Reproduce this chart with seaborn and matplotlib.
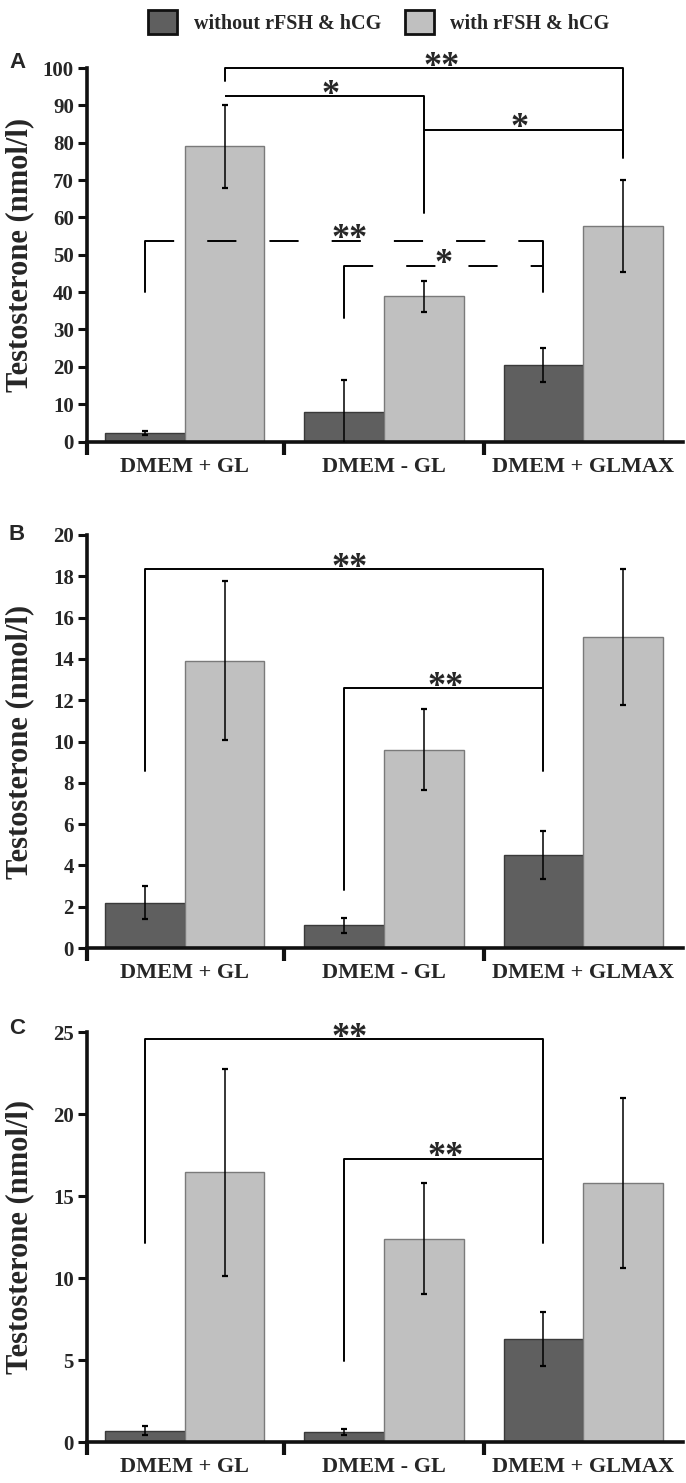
import numpy as np
import pandas as pd
import matplotlib
matplotlib.use("Agg")
import matplotlib.pyplot as plt
import seaborn as sns
from matplotlib.patches import Patch

# ---------------- data ----------------
categories = ["DMEM + GL", "DMEM - GL", "DMEM + GLMAX"]
groups = ["without rFSH & hCG", "with rFSH & hCG"]

a_without = [2.3, 7.9, 20.4]
a_without_err = [0.5, 8.6, 4.6]
a_with = [79.0, 38.9, 57.8]
a_with_err = [11.0, 4.2, 12.3]

b_without = [2.2, 1.1, 4.5]
b_without_err = [0.78, 0.36, 1.15]
b_with = [13.9, 9.6, 15.05]
b_with_err = [3.85, 1.95, 3.3]

c_without = [0.7, 0.6, 6.3]
c_without_err = [0.3, 0.17, 1.65]
c_with = [16.45, 12.4, 15.8]
c_with_err = [6.3, 3.4, 5.2]

a_yticks = list(range(0, 101, 10))
b_yticks = list(range(0, 21, 2))
c_yticks = list(range(0, 26, 5))

# significance brackets: (label, x_left, x_right, y, left_leg_bottom, right_leg_bottom, dashed, label_x)
a_brackets = [
    ("**", 0.2, 2.2, 100.0, 96.4, 75.9, False, 1.29),
    ("*", 0.2, 1.2, 92.4, None, 61.2, False, 0.73),
    ("*", 1.2, 2.2, 83.5, None, 77.0, False, 1.68),
    ("**", -0.2, 1.8, 53.8, 39.9, 39.9, True, 0.83),
    ("*", 0.8, 1.8, 47.1, 33.0, None, True, 1.30),
]
b_brackets = [
    ("**", -0.2, 1.8, 18.34, 8.55, 8.55, False, 0.83),
    ("**", 0.8, 1.8, 12.58, 2.79, None, False, 1.31),
]
c_brackets = [
    ("**", -0.2, 1.8, 24.55, 12.15, 12.15, False, 0.83),
    ("**", 0.8, 1.8, 17.28, 4.94, None, False, 1.31),
]

# ---------------- style ----------------
colors = ["#5f5f5f", "#c0c0c0"]
edge_colors = ["#3a3a3a", "#7a7a7a"]
SERIF = ["Liberation Serif", "DejaVu Serif"]
SANS = ["Liberation Sans", "DejaVu Sans"]

sns.set_style("ticks")
plt.rcParams["font.family"] = SERIF
plt.rcParams["font.weight"] = "bold"

W, H = 686, 1483
fig = plt.figure(figsize=(W / 100, H / 100), dpi=100)


def fig_axes(top_px, bottom_px, left_px=87, right_px=683):
    return fig.add_axes([left_px / W, 1 - bottom_px / H,
                         (right_px - left_px) / W, (bottom_px - top_px) / H])


def draw_panel(ax, without, without_err, with_, with_err, yticks, brackets, letter, letter_y):
    df = pd.DataFrame({
        "condition": categories * 2,
        "group": [groups[0]] * len(categories) + [groups[1]] * len(categories),
        "value": without + with_,
    })
    sns.barplot(data=df, x="condition", y="value", hue="group", order=categories,
                hue_order=groups, palette=colors, width=0.8, errorbar=None,
                saturation=1, linewidth=1.0, legend=False, ax=ax)
    for cont, err, ec in zip(ax.containers, [without_err, with_err], edge_colors):
        xs, ys = [], []
        for p in cont:
            p.set_edgecolor(ec)
            xs.append(p.get_x() + p.get_width() / 2)
            ys.append(p.get_height())
        ax.errorbar(xs, ys, yerr=err, fmt="none", ecolor="black",
                    elinewidth=1.1, capsize=2.2, capthick=1.6, zorder=4)

    ax.set_xlim(-0.49, 2.5)
    ax.set_ylim(0, yticks[-1])
    ax.set_yticks(yticks)
    ax.set_yticklabels([str(t) for t in yticks], fontsize=15, fontweight="bold")
    ax.set_xticks(range(len(categories)))
    ax.set_xticklabels(categories, fontsize=16, fontweight="bold")
    ax.set_xticks([-0.49, 0.5, 1.5], minor=True)
    ax.tick_params(axis="x", which="major", length=0, pad=11)
    ax.tick_params(axis="x", which="minor", length=9, width=3, direction="out", color="#111111")
    ax.tick_params(axis="y", which="major", length=6.5, width=2.2, direction="out",
                   color="#111111", pad=3)
    for s in ["top", "right"]:
        ax.spines[s].set_visible(False)
    for s in ["left", "bottom"]:
        ax.spines[s].set_linewidth(2.6)
        ax.spines[s].set_color("#111111")
    ax.set_xlabel("")
    ax.set_ylabel("Testosterone (nmol/l)", fontsize=22, fontweight="bold")
    ax.yaxis.set_label_coords(-0.088, 0.5)

    lw = 1.4
    for label, x1, x2, y, lb, rb, dashed, lx in brackets:
        ls = (0, (15, 17)) if dashed else "-"
        ax.plot([x1, x2], [y, y], color="black", lw=lw, ls=ls, clip_on=False,
                solid_capstyle="butt", zorder=5)
        if lb is not None:
            ax.plot([x1, x1], [y, lb], color="black", lw=lw, clip_on=False, zorder=5)
        if rb is not None:
            ax.plot([x2, x2], [y, rb], color="black", lw=lw, clip_on=False, zorder=5)
        ax.annotate(label, xy=(lx, y), xytext=(0, -5.5), textcoords="offset points",
                    ha="center", va="baseline", fontsize=26, fontweight="bold",
                    annotation_clip=False, zorder=6)

    fig.text(9 / W, 1 - letter_y / H, letter, fontsize=16, fontweight="bold",
             family=SANS, ha="left", va="center")


ax_a = fig_axes(68, 441.5)
draw_panel(ax_a, a_without, a_without_err, a_with, a_with_err, a_yticks, a_brackets, "A", 63)
ax_b = fig_axes(535, 948)
draw_panel(ax_b, b_without, b_without_err, b_with, b_with_err, b_yticks, b_brackets, "B", 535)
ax_c = fig_axes(1032, 1442)
draw_panel(ax_c, c_without, c_without_err, c_with, c_with_err, c_yticks, c_brackets, "C", 1028)

handles = [Patch(facecolor=c, edgecolor="#111111", linewidth=2) for c in colors]
fig.legend(handles, groups, loc="center", bbox_to_anchor=(379 / W, 1 - 22 / H), ncol=2,
           frameon=False, prop={"family": SERIF, "weight": "bold", "size": 14.5},
           handlelength=1.45, handleheight=1.5, handletextpad=0.8, columnspacing=1.2)

fig.savefig("out.png", dpi=100)
